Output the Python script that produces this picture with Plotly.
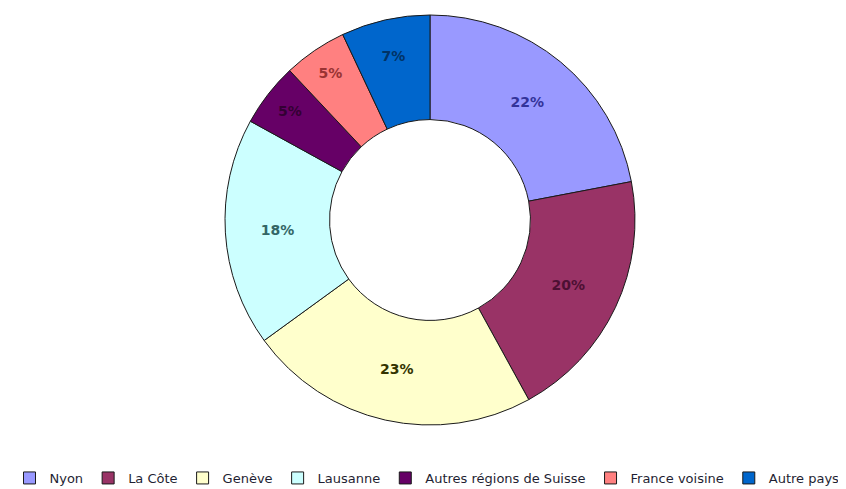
import plotly.graph_objects as go

labels = ["Nyon", "La Côte", "Genève", "Lausanne", "Autres régions de Suisse", "France voisine", "Autre pays"]
values = [22, 20, 23, 18, 5, 5, 7]
colors = ["#9999ff", "#993366", "#ffffcc", "#ccffff", "#660066", "#ff8080", "#0066cc"]
text_colors = ["#333399", "#4d1033", "#333300", "#336666", "#330033", "#993333", "#003366"]

# page body adds an 8px offset; figure is sized to fit the 846x489 window
OFF = 8
W, H = 846 - OFF, 489 - OFF
cx, cy, R = 430 - OFF, 220 - OFF, 205
fig = go.Figure(go.Pie(
    labels=labels,
    values=values,
    sort=False,
    direction="clockwise",
    hole=0.49,
    marker=dict(colors=colors, line=dict(color="#1a1a1a", width=1)),
    textinfo="percent",
    texttemplate="%{percent:.0%}",
    textposition="inside",
    insidetextorientation="horizontal",
    textfont=dict(family="DejaVu Sans", size=14, color=text_colors, weight="bold"),
    domain=dict(x=[(cx - 400) / W, (cx + 400) / W],
                y=[1 - (cy + R) / H, 1 - (cy - R) / H]),
))
fig.update_layout(
    width=W, height=H,
    margin=dict(l=0, r=0, t=0, b=0, autoexpand=False),
    paper_bgcolor="white",
    plot_bgcolor="white",
    showlegend=True,
    legend=dict(
        orientation="h",
        x=0.5, xanchor="center",
        y=1 - 455 / H, yanchor="top",
        itemwidth=30,
        font=dict(family="DejaVu Sans", size=13, color="#1f1f33"),
        traceorder="normal",
    ),
)
fig.write_html("out.html")
